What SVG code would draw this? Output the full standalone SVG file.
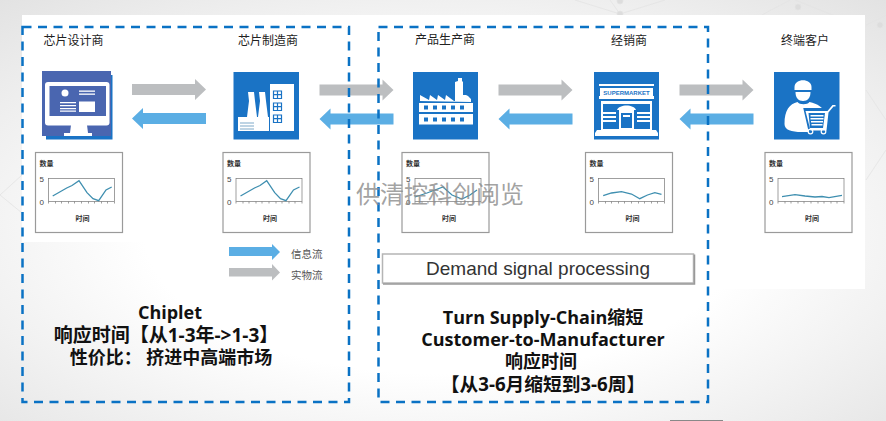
<svg xmlns="http://www.w3.org/2000/svg" width="886" height="421" viewBox="0 0 886 421">
<style>
.cjk{font-family:"Noto Sans CJK SC","Noto Sans",sans-serif}
.hd{font-size:12px;fill:#222;text-anchor:middle}
.big{font-size:18px;font-weight:700;fill:#111;text-anchor:middle;font-family:"Open Sans","Noto Sans CJK SC",sans-serif}
.box{fill:none;stroke:#0a72c4;stroke-width:2.500;stroke-dasharray:9 6.500}
.ic{fill:#1a73c5}
.w{fill:#fff}
.fr{fill:#fff;stroke:#9a9a9a;stroke-width:1.200}
.pl{fill:none;stroke:#777;stroke-width:.7}
.cl{fill:none;stroke:#3f8fb0;stroke-width:1.300}
.ct{font-size:7px;fill:#333;font-weight:700}
.nt{font-size:8px;fill:#444}
.gr{fill:#bcbec0}
.bl{fill:#5baee4}
.net{fill:none;stroke:#e3e3e3;stroke-width:.8}
.win{fill:none;stroke:#1a73c5;stroke-width:1.200}
</style>
<defs>
<radialGradient id="bg" cx="50%" cy="55%" r="75%"><stop offset="0.45" stop-color="#fff"/><stop offset="1" stop-color="#e2e2e2"/></radialGradient>
<g id="chart">
<rect class="fr" x="0" y="0" width="87" height="80"/>
<text class="cjk ct" x="4" y="13">数量</text>
<rect class="pl" x="13" y="26" width="66" height="23"/>
<path class="pl" d="M13 49v2M20 49v2M26 49v2M33 49v2M39 49v2M46 49v2M53 49v2M59 49v2M66 49v2M72 49v2M79 49v2"/>
<text class="nt" x="4" y="29" style="font-family:'Liberation Sans',sans-serif">5</text>
<text class="nt" x="4" y="52" style="font-family:'Liberation Sans',sans-serif">0</text>
<text class="cjk ct" x="47" y="68" text-anchor="middle">时间</text>
</g>
<path id="gA" class="gr" d="M0 5h63v-5l11 10.500-11 10.500v-5H0z"/>
<path id="bA" class="bl" d="M74 5H11v-5L0 10.500 11 21v-5h63z"/>
<path id="win" class="win" d="M0 0h8v7.500H0zM4 0v7.500M0 3.700h8"/>
</defs>
<rect width="886" height="421" fill="url(#bg)"/>
<g class="net">
<path d="M575 0l45 14 45-14M620 14l-10-14M790 0l-30 16M795 0l40 16M0 195l22-20M0 195l22 18M866 25l20-10M866 90l20 30M866 180l20-30"/>
<circle cx="620" cy="14" r="3" fill="#ddd"/><circle cx="620" cy="1" r="3" fill="#ddd"/><circle cx="798" cy="7" r="3" fill="#ddd"/><circle cx="880" cy="25" r="3" fill="#ddd"/>
</g>
<path fill="#fff" d="M22 15H865V289H350V291H210V242H22z"/>

<g id="connectors">
<use href="#gA" x="132" y="79"/><use href="#bA" x="132" y="108"/>
<use href="#gA" x="319.500" y="79.500"/><use href="#bA" x="319.500" y="108.500"/>
<use href="#gA" x="498.500" y="79.500"/><use href="#bA" x="498.500" y="108.500"/>
<use href="#gA" x="679.500" y="79.500"/><use href="#bA" x="679.500" y="108.500"/>
</g>

<g id="node-designer">
<text class="cjk hd" x="73.500" y="45">芯片设计商</text>
<rect x="46" y="75" width="66.500" height="64.500" class="ic"/>
<rect x="42" y="71" width="69" height="65" fill="#4a66b0"/>
<rect class="w" x="45" y="82" width="64.500" height="43.500" rx="3"/>
<rect x="49.500" y="86" width="56.500" height="30" fill="#4a66b0"/>
<path class="w" d="M71 125h16l1 8h4v3H64v-3h6z"/>
<circle class="w" cx="65" cy="93" r="3.500"/>
<rect class="w" x="79" y="90.500" width="16" height="1.300"/><rect class="w" x="79" y="93.500" width="16" height="1.300"/>
<path class="w" d="M60 102h16v1.200H60zM60 105h16v1.200H60zM60 108h16v1.200H60zM60 110.500h16v1.200H60z"/>
<rect class="w" x="79" y="101.500" width="16" height="10.500"/>
<use href="#chart" x="35.500" y="152.500"/>
<polyline class="cl" points="52.700,196 66.700,188 72,185.500 79,180.700 87,192.700 93,198.700 98.700,200.700 106,190 111.700,187"/>
</g>

<g id="node-foundry">
<text class="cjk hd" x="268" y="45">芯片制造商</text>
<rect class="ic" x="233.500" y="72" width="65.500" height="67.500"/>
<rect class="w" x="270" y="84" width="24" height="47"/>
<use href="#win" x="273.500" y="91"/><use href="#win" x="273.500" y="103"/><use href="#win" x="273.500" y="115"/>
<path class="w" d="M248 92h6l1 9 2 16h-10l2-16zM259 92h6l1 9 2 16h-10l2-16z"/>
<rect class="w" x="238" y="117" width="31" height="14"/>
<path d="M240 123h14M240 126h14M240 129h14" stroke="#7fa9c9" stroke-width="1.200"/>
<use href="#chart" x="223" y="152.500"/>
<polyline class="cl" points="240.500,196 254.500,188 260,185.500 266.700,180.700 274.700,192.700 280.500,198.700 286,200.700 293.500,190 299.500,187"/>
</g>

<g id="node-manufacturer">
<text class="cjk hd" x="445" y="44">产品生产商</text>
<rect class="ic" x="413" y="72" width="65" height="67.500"/>
<path class="w" d="M420 101l0-6 9 5 1-5 7 5 1-5 7 5 1-5 8 6h1l0-19 3-1 0-3h4l0 3 1 1v13h3l2 1 3 3v3z"/>
<rect class="w" x="419" y="103" width="54" height="9"/>
<rect class="w" x="419" y="114" width="54" height="10.500"/>
<path class="ic" d="M424 105.500h4v4h-4zM433 105.500h4v4h-4zM442 105.500h4v4h-4zM451 105.500h4v4h-4zM460 105.500h4v4h-4zM424 117.500h4v4h-4zM433 117.500h4v4h-4zM442 117.500h4v4h-4zM451 117.500h4v4h-4zM460 117.500h4v4h-4z"/>
<use href="#chart" x="402" y="152.500"/>
<polyline class="cl" points="415,197 427,193 443,187 452,195 462,199 470,195 477,190"/>
</g>

<g id="node-distributor">
<text class="cjk hd" x="629" y="45">经销商</text>
<rect class="ic" x="594" y="72" width="65" height="67.500"/>
<rect class="w" x="599" y="84" width="55" height="2"/>
<rect class="w" x="600" y="88" width="53" height="9"/>
<text x="626.500" y="94.800" text-anchor="middle" font-size="6" font-weight="700" fill="#1a73c5" font-family="'Liberation Sans',sans-serif">SUPERMARKET</text>
<rect class="w" x="599" y="96" width="55" height="3"/>
<rect class="w" x="601" y="101" width="51" height="30"/>
<rect class="ic" x="603" y="104" width="47" height="25"/>
<path class="w" d="M617 110c2-6 17-6 19 0z"/>
<path class="w" d="M603 112h13v2h-13zM603 116h13v2h-13zM603 120h13v2h-13zM637 112h13v2h-13zM637 116h13v2h-13zM637 120h13v2h-13z"/>
<rect class="w" x="619" y="110" width="15" height="20"/>
<rect class="ic" x="621" y="113" width="11" height="15"/>
<rect class="w" x="623" y="115" width="7" height="2"/>
<path class="w" d="M597 130h59l2 3v3h-63v-3z"/>
<use href="#chart" x="585.500" y="152.500"/>
<polyline class="cl" points="603.200,195.700 611.500,193 621.500,191.700 631.500,194 639.800,198.700 647.500,195 654.800,192.700 661.500,194.300"/>
</g>

<g id="node-customer">
<text class="cjk hd" x="805" y="45">终端客户</text>
<rect class="ic" x="774" y="72" width="65.500" height="67.500"/>
<g transform="translate(2.500 0)">
<path class="w" d="M792 87c0-9 17-9 17 0v3h-17z"/>
<path class="w" d="M793 92h15c0 6-3 9-7.500 9s-7.500-3-7.500-9z"/>
<path class="w" d="M795 102c2 3 10 3 12 0 8 2 14 5 16 12h-17l3 18h-10c-10 0-17-2-17-8 0-14 5-20 13-22z"/>
<path class="ic" d="M802 109h23l-1 22h-17z" stroke="#1a73c5" stroke-width="2"/>
<path class="w" d="M803 111h22l5-6h3v1.500h-2l-5 6-2 18h-16zM806 113l1.500 15h13l2-15z"/>
<path class="w" d="M808 115h13v1.500h-13zM808 118h13v1.500h-13zM808.500 121h12v1.500h-12zM809 124h11v1.500h-11z"/>
<circle cx="808" cy="131.500" r="2.300" fill="none" stroke="#fff" stroke-width="1.200"/><circle cx="821" cy="131.500" r="2.300" fill="none" stroke="#fff" stroke-width="1.200"/>
</g>
<use href="#chart" x="765" y="152.500"/>
<polyline class="cl" points="782,196.700 795,194.700 805,196 815,197 822,196.500 829,197.700 842,195.300"/>
</g>

<g id="legend">
<path class="bl" d="M229 247h43v-3l8 8-8 8v-4h-43z"/>
<path class="gr" d="M229 268h43v-4l8 8.500-8 8v-4h-43z"/>
<text class="cjk" x="291" y="258" font-size="10.500" fill="#555">信息流</text>
<text class="cjk" x="291" y="279" font-size="10.500" fill="#555">实物流</text>
</g>

<g id="demand">
<rect x="382.500" y="254" width="311" height="29" fill="#fff" stroke="#b5b5b5" stroke-width="1.500"/>
<path d="M694.500 254.500v29.500H383" fill="none" stroke="#999" stroke-width="1.500"/>
<text x="538" y="275" text-anchor="middle" font-size="19" fill="#333" font-family="'Liberation Sans',sans-serif">Demand signal processing</text>
</g>

<text class="big" x="170" y="319">Chiplet</text>
<text class="big" x="166" y="342" style="font-size:19px">响应时间【从1-3年-&gt;1-3】</text>
<text class="big" x="171" y="364">性价比： 挤进中高端市场</text>
<text class="big" x="543" y="324">Turn Supply-Chain缩短</text>
<text class="big" x="543" y="346">Customer-to-Manufacturer</text>
<text class="big" x="541" y="368">响应时间</text>
<text class="big" x="543" y="391" style="font-size:18.700px">【从3-6月缩短到3-6周】</text>

<rect class="box" x="22.500" y="27" width="326.500" height="375"/>
<rect class="box" x="378.500" y="27" width="329.500" height="375"/>

<text class="cjk" x="440" y="203" text-anchor="middle" font-size="24" fill="#8a8a8a" fill-opacity=".8">供清控科创阅览</text>
<path d="M670 420.500h53" stroke="#888" stroke-width="1"/>
</svg>
